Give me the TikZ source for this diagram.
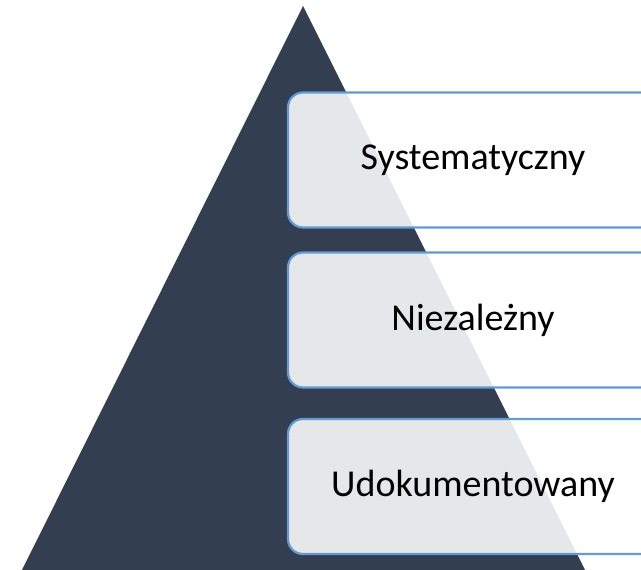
\documentclass[tikz,border=0pt]{standalone}
\usepackage{fontspec}
\setmainfont{Carlito}
\definecolor{navy}{RGB}{51,63,80}
\definecolor{rim}{RGB}{98,155,212}

\begin{document}
\begin{tikzpicture}[x=1pt, y=1pt,
	level/.style={draw=rim, line width=2.2pt, fill=white, fill opacity=0.88, text opacity=1,
		rounded corners=15pt, minimum width=370pt, minimum height=135pt, inner sep=0pt,
		font=\fontsize{38}{46}\selectfont}]
	\useasboundingbox (0,0) rectangle (641,570);
	\clip (0,0) rectangle (641,570);

	\coordinate (apex) at (303,564);
	\coordinate (B1) at (22,0);
	\coordinate (B2) at (585,0);
	\path[fill=navy] (B1) -- (apex) -- (B2) -- cycle;

	\node[level] (syst) at (473,410) {Systematyczny};
	\node[level] (niez) at (473,250) {Niezależny};
	\node[level] (udok) at (473,83.5) {Udokumentowany};

\end{tikzpicture}
\end{document}
